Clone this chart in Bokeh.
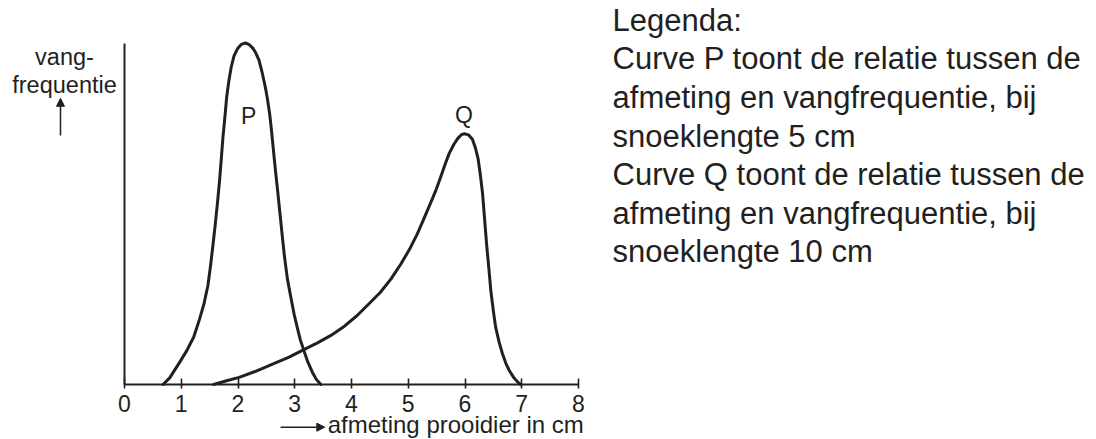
from bokeh.plotting import figure
from bokeh.models import Range1d, FixedTicker, Label, Arrow, NormalHead, ColumnDataSource
from bokeh.core.properties import value
from bokeh.embed import file_html
from bokeh.resources import INLINE

# ---- data ----
p_x = [0.68, 0.80, 0.99, 1.10, 1.22, 1.32, 1.40, 1.47, 1.52, 1.56, 1.60, 1.64, 1.675, 1.705,
       1.735, 1.77, 1.80, 1.84, 1.88, 1.93, 1.99, 2.06, 2.13, 2.20, 2.26, 2.31, 2.37, 2.43,
       2.48, 2.52, 2.56, 2.59, 2.625, 2.66, 2.70, 2.74, 2.78, 2.82, 2.87, 2.93, 2.99, 3.05,
       3.10, 3.16, 3.23, 3.31, 3.38, 3.46]
p_y = [0.0, 0.02, 0.07, 0.10, 0.139, 0.19, 0.236, 0.29, 0.353, 0.41, 0.47, 0.535, 0.597, 0.66,
       0.724, 0.785, 0.841, 0.89, 0.929, 0.962, 0.983, 0.996, 1.0, 0.995, 0.985, 0.972, 0.95, 0.91,
       0.872, 0.835, 0.79, 0.744, 0.685, 0.627, 0.565, 0.5, 0.435, 0.373, 0.31, 0.256, 0.205, 0.163,
       0.13, 0.10, 0.066, 0.036, 0.015, 0.0]

q_x = [1.57, 1.80, 2.02, 2.30, 2.63, 2.90, 3.16, 3.40, 3.63, 3.87, 4.10, 4.30, 4.51, 4.70,
       4.87, 5.02, 5.16, 5.28, 5.40, 5.49, 5.57, 5.65, 5.72, 5.80, 5.87, 5.94, 6.00, 6.06,
       6.13, 6.18, 6.23, 6.27, 6.31, 6.345, 6.38, 6.42, 6.455, 6.50, 6.54, 6.60, 6.66, 6.72,
       6.78, 6.86, 6.93, 6.98]
q_y = [0.0, 0.011, 0.021, 0.038, 0.061, 0.08, 0.102, 0.122, 0.143, 0.17, 0.202, 0.235, 0.27, 0.31,
       0.353, 0.395, 0.441, 0.487, 0.534, 0.57, 0.607, 0.645, 0.676, 0.702, 0.72, 0.732, 0.734, 0.731,
       0.718, 0.695, 0.662, 0.615, 0.558, 0.485, 0.412, 0.34, 0.275, 0.215, 0.168, 0.125, 0.09, 0.062,
       0.041, 0.02, 0.007, 0.0]

x_ticks = [0, 1, 2, 3, 4, 5, 6, 7, 8]
curve_names = ["P", "Q"]
curve_label_x = [2.19, 5.98]
curve_label_y = [0.786, 0.788]

y_label_lines = ["vang-", "frequentie"]
x_label = "afmeting prooidier in cm"
legend_lines = [
    "Legenda:",
    "Curve P toont de relatie tussen de",
    "afmeting en vangfrequentie, bij",
    "snoeklengte 5 cm",
    "Curve Q toont de relatie tussen de",
    "afmeting en vangfrequentie, bij",
    "snoeklengte 10 cm",
]

INK = "#231f20"
FONT = "Liberation Sans"

W, H = 1096, 439
X0, Y0 = 124.0, 384.0      # pixel position of the data origin
SX, SY = 56.75, 341.5      # pixels per data unit

p = figure(width=W, height=H, min_border=0,
           x_range=Range1d(-X0 / SX, (W - X0) / SX),
           y_range=Range1d(-(H - Y0) / SY, Y0 / SY),
           output_backend="svg", toolbar_location=None,
           background_fill_color="white", border_fill_color="white")
p.outline_line_color = None
p.xgrid.visible = False
p.ygrid.visible = False

xa = p.xaxis[0]
xa.fixed_location = 0
xa.ticker = FixedTicker(ticks=x_ticks)
xa.minor_tick_line_color = None
xa.major_tick_in = 6
xa.major_tick_out = 4
xa.major_tick_line_width = 1.6
xa.major_tick_line_color = INK
xa.axis_line_width = 2
xa.axis_line_color = INK
xa.major_label_standoff = 6
xa.major_label_text_font = FONT
xa.major_label_text_font_size = "23px"
xa.major_label_text_color = INK
xa.bounds = (0, 8)

ya = p.yaxis[0]
ya.fixed_location = 0
ya.ticker = FixedTicker(ticks=[])
ya.minor_tick_line_color = None
ya.major_tick_line_color = None
ya.major_label_text_font_size = "0px"
ya.axis_line_width = 2
ya.axis_line_color = INK
ya.bounds = (0, 0.998)

p.line(p_x, p_y, line_width=3, line_color=INK, line_join="round", line_cap="round")
p.line(q_x, q_y, line_width=3, line_color=INK, line_join="round", line_cap="round")

src = ColumnDataSource(dict(x=curve_label_x, y=curve_label_y, t=curve_names))
p.text(x="x", y="y", text="t", source=src, text_font=value(FONT), text_font_size="23px",
       text_color=INK, text_align="center", text_baseline="alphabetic")

# y-axis label and arrow
for txt, yy in zip(y_label_lines, [0.960, 0.877]):
    p.add_layout(Label(x=-1.057, y=yy, text=txt, text_font=FONT, text_font_size="23.5px",
                       text_color=INK, text_align="center", text_baseline="alphabetic"))
p.add_layout(Arrow(end=NormalHead(size=8, fill_color=INK, line_color=INK, line_width=1),
                   x_start=-1.128, y_start=0.729, x_end=-1.128, y_end=0.838,
                   line_color=INK, line_width=1.5))

# x-axis label and arrow
p.add_layout(Arrow(end=NormalHead(size=8, fill_color=INK, line_color=INK, line_width=1),
                   x_start=2.75, y_start=-0.1250, x_end=3.53, y_end=-0.1250,
                   line_color=INK, line_width=1.5))
p.add_layout(Label(x=3.58, y=-0.1170, text=x_label, text_font=FONT, text_font_size="24px",
                   text_color=INK, text_align="left", text_baseline="alphabetic"))

# legend text on the right
legend_y = [1.0665, 0.9535, 0.8405, 0.7275, 0.6145, 0.5015, 0.3885]
for txt, yy in zip(legend_lines, legend_y):
    p.add_layout(Label(x=8.60, y=yy, text=txt, text_font=FONT, text_font_size="31px",
                       text_color=INK, text_align="left", text_baseline="alphabetic"))

open("out.html", "w").write(file_html(p, INLINE))
